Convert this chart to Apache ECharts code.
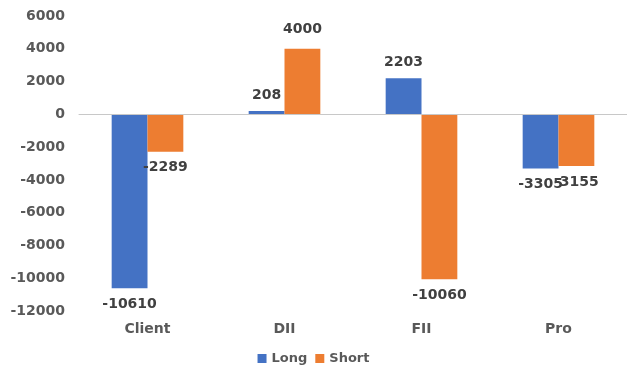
<!DOCTYPE html>
<html>
<head>
<meta charset="utf-8">
<script src="https://cdn.jsdelivr.net/npm/echarts@6/dist/echarts.min.js"></script>
<style>
  html, body { margin: 0; padding: 0; background: #fff; }
  #chart { width: 627px; height: 372px; }
</style>
</head>
<body>
<div id="chart"></div>
<script>
const categories = ['Client', 'DII', 'FII', 'Pro'];
const longData = [-10610, 208, 2203, -3305];
const shortData = [-2289, 4000, -10060, -3155];

const chart = echarts.init(document.getElementById('chart'));

const labelStyle = {
    show: true,
    fontFamily: 'DejaVu Sans',
    fontWeight: 'bold',
    fontSize: 14,
    color: '#404040'
};

function barData(values) {
    return values.map(v => ({
        value: v,
        label: { position: v < 0 ? 'bottom' : 'top', distance: v >= 4000 ? 12 : 9 }
    }));
}

chart.setOption({
    animation: false,
    grid: { left: 79, top: 16, width: 551, height: 295, containLabel: false },
    legend: {
        bottom: 2,
        left: 'center',
        itemWidth: 9,
        itemHeight: 9,
        itemGap: 8,
        icon: 'rect',
        textStyle: { fontFamily: 'DejaVu Sans', fontWeight: 'bold', fontSize: 13, color: '#595959' },
        data: ['Long', 'Short']
    },
    xAxis: {
        type: 'category',
        data: categories,
        axisTick: { show: false },
        axisLine: { show: true, onZero: true, lineStyle: { color: '#c8c8c8', width: 1 } },
        axisLabel: {
            fontFamily: 'DejaVu Sans', fontWeight: 'bold', fontSize: 14, color: '#595959',
            margin: 11
        },
        z: 5
    },
    yAxis: {
        type: 'value',
        min: -12000,
        max: 6000,
        interval: 2000,
        splitLine: { show: false },
        axisLine: { show: false },
        axisTick: { show: false },
        axisLabel: {
            fontFamily: 'DejaVu Sans', fontWeight: 'bold', fontSize: 14, color: '#595959',
            margin: 14,
            formatter: v => String(v)
        }
    },
    series: [
        {
            name: 'Long',
            type: 'bar',
            data: barData(longData),
            itemStyle: { color: '#4472C4' },
            barGap: '0%',
            barCategoryGap: '47.7%',
            label: labelStyle
        },
        {
            name: 'Short',
            type: 'bar',
            data: barData(shortData),
            itemStyle: { color: '#ED7D31' },
            label: labelStyle
        }
    ]
});
</script>
</body>
</html>
